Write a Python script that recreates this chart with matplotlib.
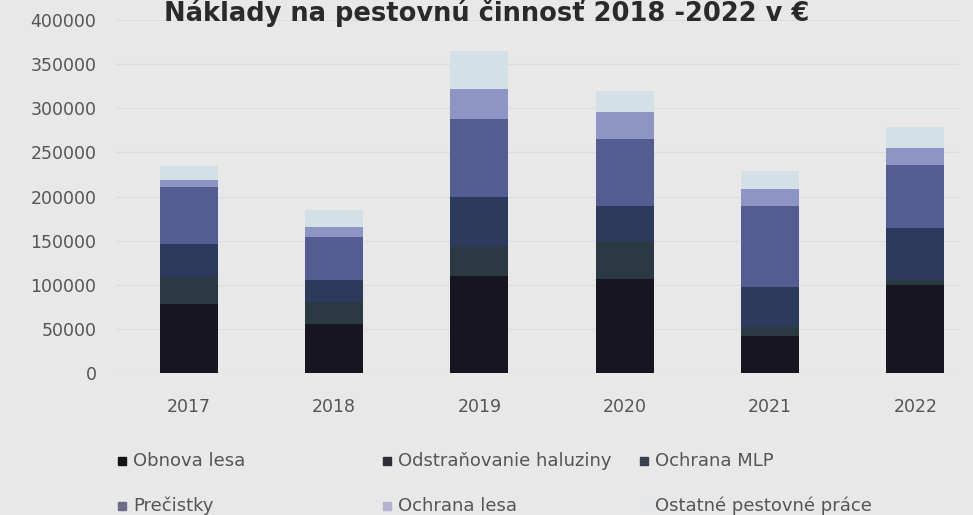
import matplotlib
matplotlib.use('Agg')
import matplotlib.pyplot as plt
from matplotlib.patches import Rectangle
import numpy as np

# data (EUR)
years = ['2017', '2018', '2019', '2020', '2021', '2022']
obnova_lesa = [78000, 55000, 110000, 106000, 42000, 100000]
odstranovanie_haluziny = [31000, 25000, 33000, 42000, 10000, 5000]
ochrana_mlp = [37000, 25000, 57000, 41000, 46000, 59000]
precistky = [65000, 49000, 88000, 76000, 91000, 72000]
ochrana_lesa = [8000, 11000, 34000, 31000, 19000, 19000]
ostatne = [15000, 20000, 43000, 24000, 21000, 24000]

series_names = ['Obnova lesa', 'Odstraňovanie haluziny', 'Ochrana MLP',
                'Prečistky', 'Ochrana lesa', 'Ostatné pestovné práce']
series_vals = [obnova_lesa, odstranovanie_haluziny, ochrana_mlp,
               precistky, ochrana_lesa, ostatne]
colors = ['#17151f', '#2a3942', '#2c3a5c', '#535d92', '#8d95c4', '#d3e1e7']
legend_colors = ['#141414', '#2e2e36', '#3a3f4f', '#6b6b8a', '#b4b4d2', '#e4e8ea']

bg = '#e8e8e8'
fig = plt.figure(figsize=(9.73, 5.15), dpi=100, facecolor=bg)
ax = fig.add_axes([116 / 973, 1 - 373 / 515, (959 - 116) / 973, (373 - 20) / 515])
ax.set_facecolor(bg)

x = np.arange(len(years))
bottom = np.zeros(len(years))
for name, vals, c in zip(series_names, series_vals, colors):
    ax.bar(x, vals, width=0.4, bottom=bottom, color=c, label=name, zorder=3)
    bottom += np.array(vals)

ax.set_xlim(-0.5, 5.3)
ax.set_ylim(0, 400000)
ax.set_yticks(range(0, 400001, 50000))
ax.set_yticklabels([str(v) for v in range(0, 400001, 50000)])
ax.set_xticks(x)
ax.set_xticklabels(years)
ax.tick_params(axis='both', length=0, labelsize=12.5, labelcolor='#555555')
ax.tick_params(axis='y', pad=14)
ax.tick_params(axis='x', pad=18)
ax.grid(axis='y', color='#dcdcdc', linewidth=0.8, zorder=0)
for s in ax.spines.values():
    s.set_visible(False)

fig.text(0.5, 1 - 13 / 515, 'Náklady na pestovnú činnosť 2018 -2022 v €',
         ha='center', va='center', fontsize=18.5, fontweight='bold', color='#2a2a2a')

# legend placed by hand, two rows of three
col_x = [118, 383, 640]
row_y = [461, 506]
for i, (name, c) in enumerate(zip(series_names, legend_colors)):
    r, col = divmod(i, 3)
    px, py = col_x[col], row_y[r]
    fig.add_artist(Rectangle((px / 973, 1 - (py + 4) / 515), 8 / 973, 8 / 515,
                             transform=fig.transFigure, color=c))
    fig.text((px + 15) / 973, 1 - py / 515, name, ha='left', va='center',
             fontsize=13, color='#555555')

fig.savefig('out.png', dpi=100, facecolor=bg)
